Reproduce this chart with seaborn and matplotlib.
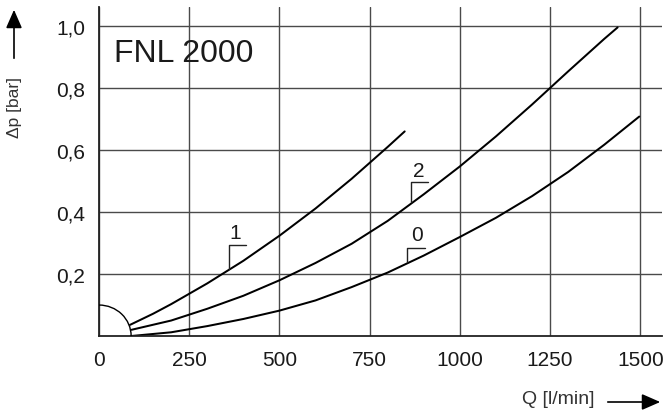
import numpy as np
import pandas as pd
import matplotlib
matplotlib.use("Agg")
import matplotlib.pyplot as plt
from matplotlib.patches import Arc, FancyArrowPatch
import seaborn as sns

# ---- data ----
curve1_q = [86, 150, 200, 300, 400, 500, 600, 700, 800, 847]
curve1_dp = [0.036, 0.072, 0.103, 0.170, 0.243, 0.324, 0.412, 0.508, 0.611, 0.661]

curve2_q = [90, 200, 300, 400, 500, 600, 700, 800, 900, 1000, 1100, 1200, 1300, 1400, 1437]
curve2_dp = [0.020, 0.050, 0.088, 0.130, 0.180, 0.236, 0.298, 0.372, 0.458, 0.548,
             0.645, 0.748, 0.855, 0.960, 0.997]

curve0_q = [90, 200, 300, 400, 500, 600, 700, 800, 900, 1000, 1100, 1200, 1300, 1400, 1497]
curve0_dp = [0.0, 0.012, 0.032, 0.055, 0.082, 0.115, 0.158, 0.205, 0.260, 0.320,
             0.382, 0.452, 0.530, 0.618, 0.709]

x_ticks = [0, 250, 500, 750, 1000, 1250, 1500]
x_tick_labels = ["0", "250", "500", "750", "1000", "1250", "1500"]
y_ticks = [0.2, 0.4, 0.6, 0.8, 1.0]
y_tick_labels = ["0,2", "0,4", "0,6", "0,8", "1,0"]

curve_names = ["1", "2", "0"]
leader_x = [360, 865, 854]
leader_y0 = [0.216, 0.432, 0.238]
leader_y1 = [0.295, 0.4985, 0.285]
leader_x1 = [407, 913, 902]
label_x = [377, 887, 881]
label_y = [0.336, 0.536, 0.327]

title_text = "FNL 2000"
arc_rx, arc_ry = 89, 0.10

# ---- build table ----
frames = []
for name, q, dp in [("1", curve1_q, curve1_dp), ("2", curve2_q, curve2_dp), ("0", curve0_q, curve0_dp)]:
    frames.append(pd.DataFrame({"Q": q, "dp": dp, "curve": name}))
df = pd.concat(frames, ignore_index=True)

sns.set_theme(style="white")
plt.rcParams["font.family"] = ["Liberation Sans", "DejaVu Sans"]

fig = plt.figure(figsize=(6.65, 4.14), dpi=100)
ax = fig.add_axes([99 / 665, 1 - 337 / 414, (662 - 99) / 665, (337 - 8) / 414])

sns.lineplot(data=df, x="Q", y="dp", units="curve", estimator=None, color="black",
             linewidth=1.45, ax=ax, sort=False)

ax.set_xlim(0, 1560)
ax.set_ylim(0, 1.063)
ax.set_xticks(x_ticks)
ax.set_xticklabels(x_tick_labels)
ax.set_yticks(y_ticks)
ax.set_yticklabels(y_tick_labels)
ax.tick_params(axis="both", length=0, labelsize=15, colors="#1a1a1a", pad=10)
ax.set_xlabel("")
ax.set_ylabel("")
ax.grid(True, color="#4a4a4a", linewidth=1.0)
ax.set_axisbelow(True)
for s in ["top", "right"]:
    ax.spines[s].set_visible(False)
for s in ["left", "bottom"]:
    ax.spines[s].set_color("#222222")
    ax.spines[s].set_linewidth(1.3)

# arc near origin
ax.add_patch(Arc((0, 0), 2 * arc_rx, 2 * arc_ry, theta1=0, theta2=90,
                 color="black", linewidth=1.0, zorder=3))

# leaders and curve labels
for i, name in enumerate(curve_names):
    ax.plot([leader_x[i], leader_x[i], leader_x1[i]],
            [leader_y0[i], leader_y1[i], leader_y1[i]],
            color="#222222", linewidth=1.0)
    ax.text(label_x[i], label_y[i], name, fontsize=15, ha="center", va="center",
            color="#1a1a1a")

ax.text(41, 0.889, title_text, fontsize=23, ha="left", va="baseline", color="#1a1a1a")

# axis labels with arrows
fig.text(15 / 665, 1 - 108 / 414, "Δp [bar]", rotation=90, fontsize=12.5,
         ha="center", va="center", color="#333333")
fig.text(558 / 665, 1 - 400 / 414, "Q [l/min]", fontsize=14,
         ha="center", va="center", color="#333333")

fig.patches.append(FancyArrowPatch(
    (14 / 665, 1 - 62 / 414), (14 / 665, 1 - 8 / 414), transform=fig.transFigure,
    arrowstyle="-|>,head_length=0.8,head_width=0.35", mutation_scale=14,
    color="black", linewidth=1.2))
fig.patches.append(FancyArrowPatch(
    (605 / 665, 1 - 403 / 414), (663 / 665, 1 - 403 / 414), transform=fig.transFigure,
    arrowstyle="-|>,head_length=0.8,head_width=0.35", mutation_scale=14,
    color="black", linewidth=1.2))

fig.savefig("out.png", dpi=100)
